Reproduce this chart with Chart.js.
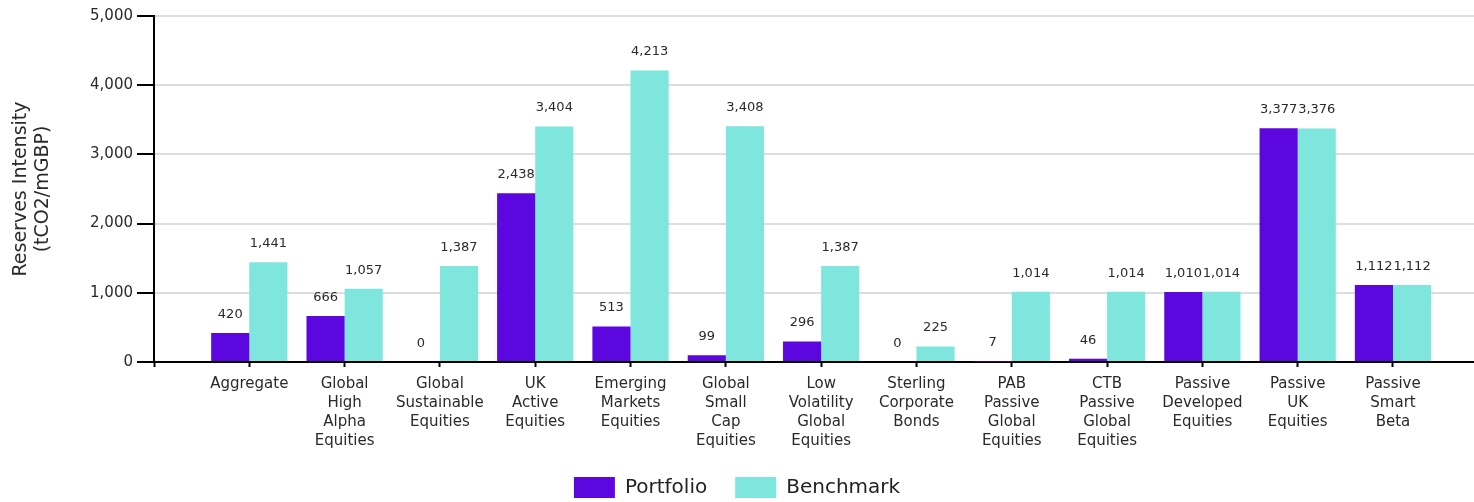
<!DOCTYPE html>
<html>
<head>
<meta charset="utf-8">
<script src="https://cdn.jsdelivr.net/npm/chart.js@4.4.0/dist/chart.umd.min.js"></script>
<style>
  html, body { margin: 0; padding: 0; background: #fff; overflow: hidden; }
  #wrap { width: 1474px; height: 502px; position: relative; }
</style>
</head>
<body>
<div id="wrap"><canvas id="c" width="1474" height="502"></canvas></div>
<script>
const categories = [
  ["Aggregate"],
  ["Global", "High", "Alpha", "Equities"],
  ["Global", "Sustainable", "Equities"],
  ["UK", "Active", "Equities"],
  ["Emerging", "Markets", "Equities"],
  ["Global", "Small", "Cap", "Equities"],
  ["Low", "Volatility", "Global", "Equities"],
  ["Sterling", "Corporate", "Bonds"],
  ["PAB", "Passive", "Global", "Equities"],
  ["CTB", "Passive", "Global", "Equities"],
  ["Passive", "Developed", "Equities"],
  ["Passive", "UK", "Equities"],
  ["Passive", "Smart", "Beta"]
];
const portfolio = [420, 666, 0, 2438, 513, 99, 296, 0, 7, 46, 1010, 3377, 1112];
const benchmark = [1441, 1057, 1387, 3404, 4213, 3408, 1387, 225, 1014, 1014, 1014, 3376, 1112];
const yTicks = [0, 1000, 2000, 3000, 4000, 5000];
const seriesNames = ["Portfolio", "Benchmark"];

const FONT = "'DejaVu Sans', sans-serif";
const fmt = v => v.toLocaleString('en-US');

const toPoints = arr => arr.map((v, i) => ({ x: i + 1, y: v }));

const valueLabels = {
  id: 'valueLabels',
  afterDatasetsDraw(chart) {
    const ctx = chart.ctx;
    ctx.save();
    ctx.font = "13px " + FONT;
    ctx.fillStyle = '#2a2a2a';
    ctx.textAlign = 'center';
    ctx.textBaseline = 'bottom';
    chart.data.datasets.forEach((ds, di) => {
      const meta = chart.getDatasetMeta(di);
      meta.data.forEach((bar, i) => {
        ctx.fillText(fmt(ds.data[i].y), bar.x, bar.y - 12);
      });
    });
    ctx.restore();
  }
};

new Chart(document.getElementById('c'), {
  type: 'bar',
  data: {
    datasets: [
      { label: seriesNames[0], data: toPoints(portfolio), backgroundColor: '#5c06e0', barPercentage: 1.0, categoryPercentage: 0.8 },
      { label: seriesNames[1], data: toPoints(benchmark), backgroundColor: '#7fe6de', barPercentage: 1.0, categoryPercentage: 0.8 }
    ]
  },
  options: {
    responsive: false,
    animation: false,
    layout: { padding: { top: 16, right: 0, left: 0, bottom: 0 } },
    plugins: {
      legend: {
        position: 'bottom',
        maxHeight: 53,
        labels: {
          boxWidth: 41,
          boxHeight: 21,
          padding: 28,
          color: '#222',
          font: { family: FONT, size: 20 }
        }
      },
      tooltip: { enabled: false }
    },
    scales: {
      x: {
        type: 'linear',
        offset: false,
        min: 0,
        max: 13.85,
        afterBuildTicks(scale) {
          scale.ticks = categories.map((c, i) => ({ value: i + 1 }));
          scale.ticks.unshift({ value: 0 });
        },
        afterFit(scale) { scale.height = 87; },
        ticks: {
          autoSkip: false,
          maxRotation: 0,
          padding: 8,
          color: '#2a2a2a',
          font: { family: FONT, size: 15, lineHeight: 1.25 },
          callback(v) {
            const i = Math.round(v) - 1;
            return (i >= 0 && i < categories.length && Math.abs(v - (i + 1)) < 1e-6) ? categories[i] : '';
          }
        },
        grid: { offset: false, drawOnChartArea: false, drawTicks: true, tickLength: 5, tickColor: '#000', tickWidth: 2 },
        border: { color: '#000', width: 2 }
      },
      y: {
        min: 0,
        max: 5000,
        afterBuildTicks(scale) { scale.ticks = yTicks.map(v => ({ value: v })); },
        afterFit(scale) { scale.width = 154; },
        ticks: {
          padding: 4,
          color: '#2a2a2a',
          font: { family: FONT, size: 15 },
          callback: v => fmt(v)
        },
        grid: { color: '#dddddd', lineWidth: 2, tickLength: 17, tickColor: '#000', tickWidth: 2 },
        border: { color: '#000', width: 2 },
        title: {
          display: true,
          text: ['Reserves Intensity', '(tCO2/mGBP)'],
          color: '#2a2a2a',
          font: { family: FONT, size: 19, lineHeight: 1.15 },
          padding: { top: 10, bottom: 0 }
        }
      }
    }
  },
  plugins: [valueLabels]
});
</script>
</body>
</html>
